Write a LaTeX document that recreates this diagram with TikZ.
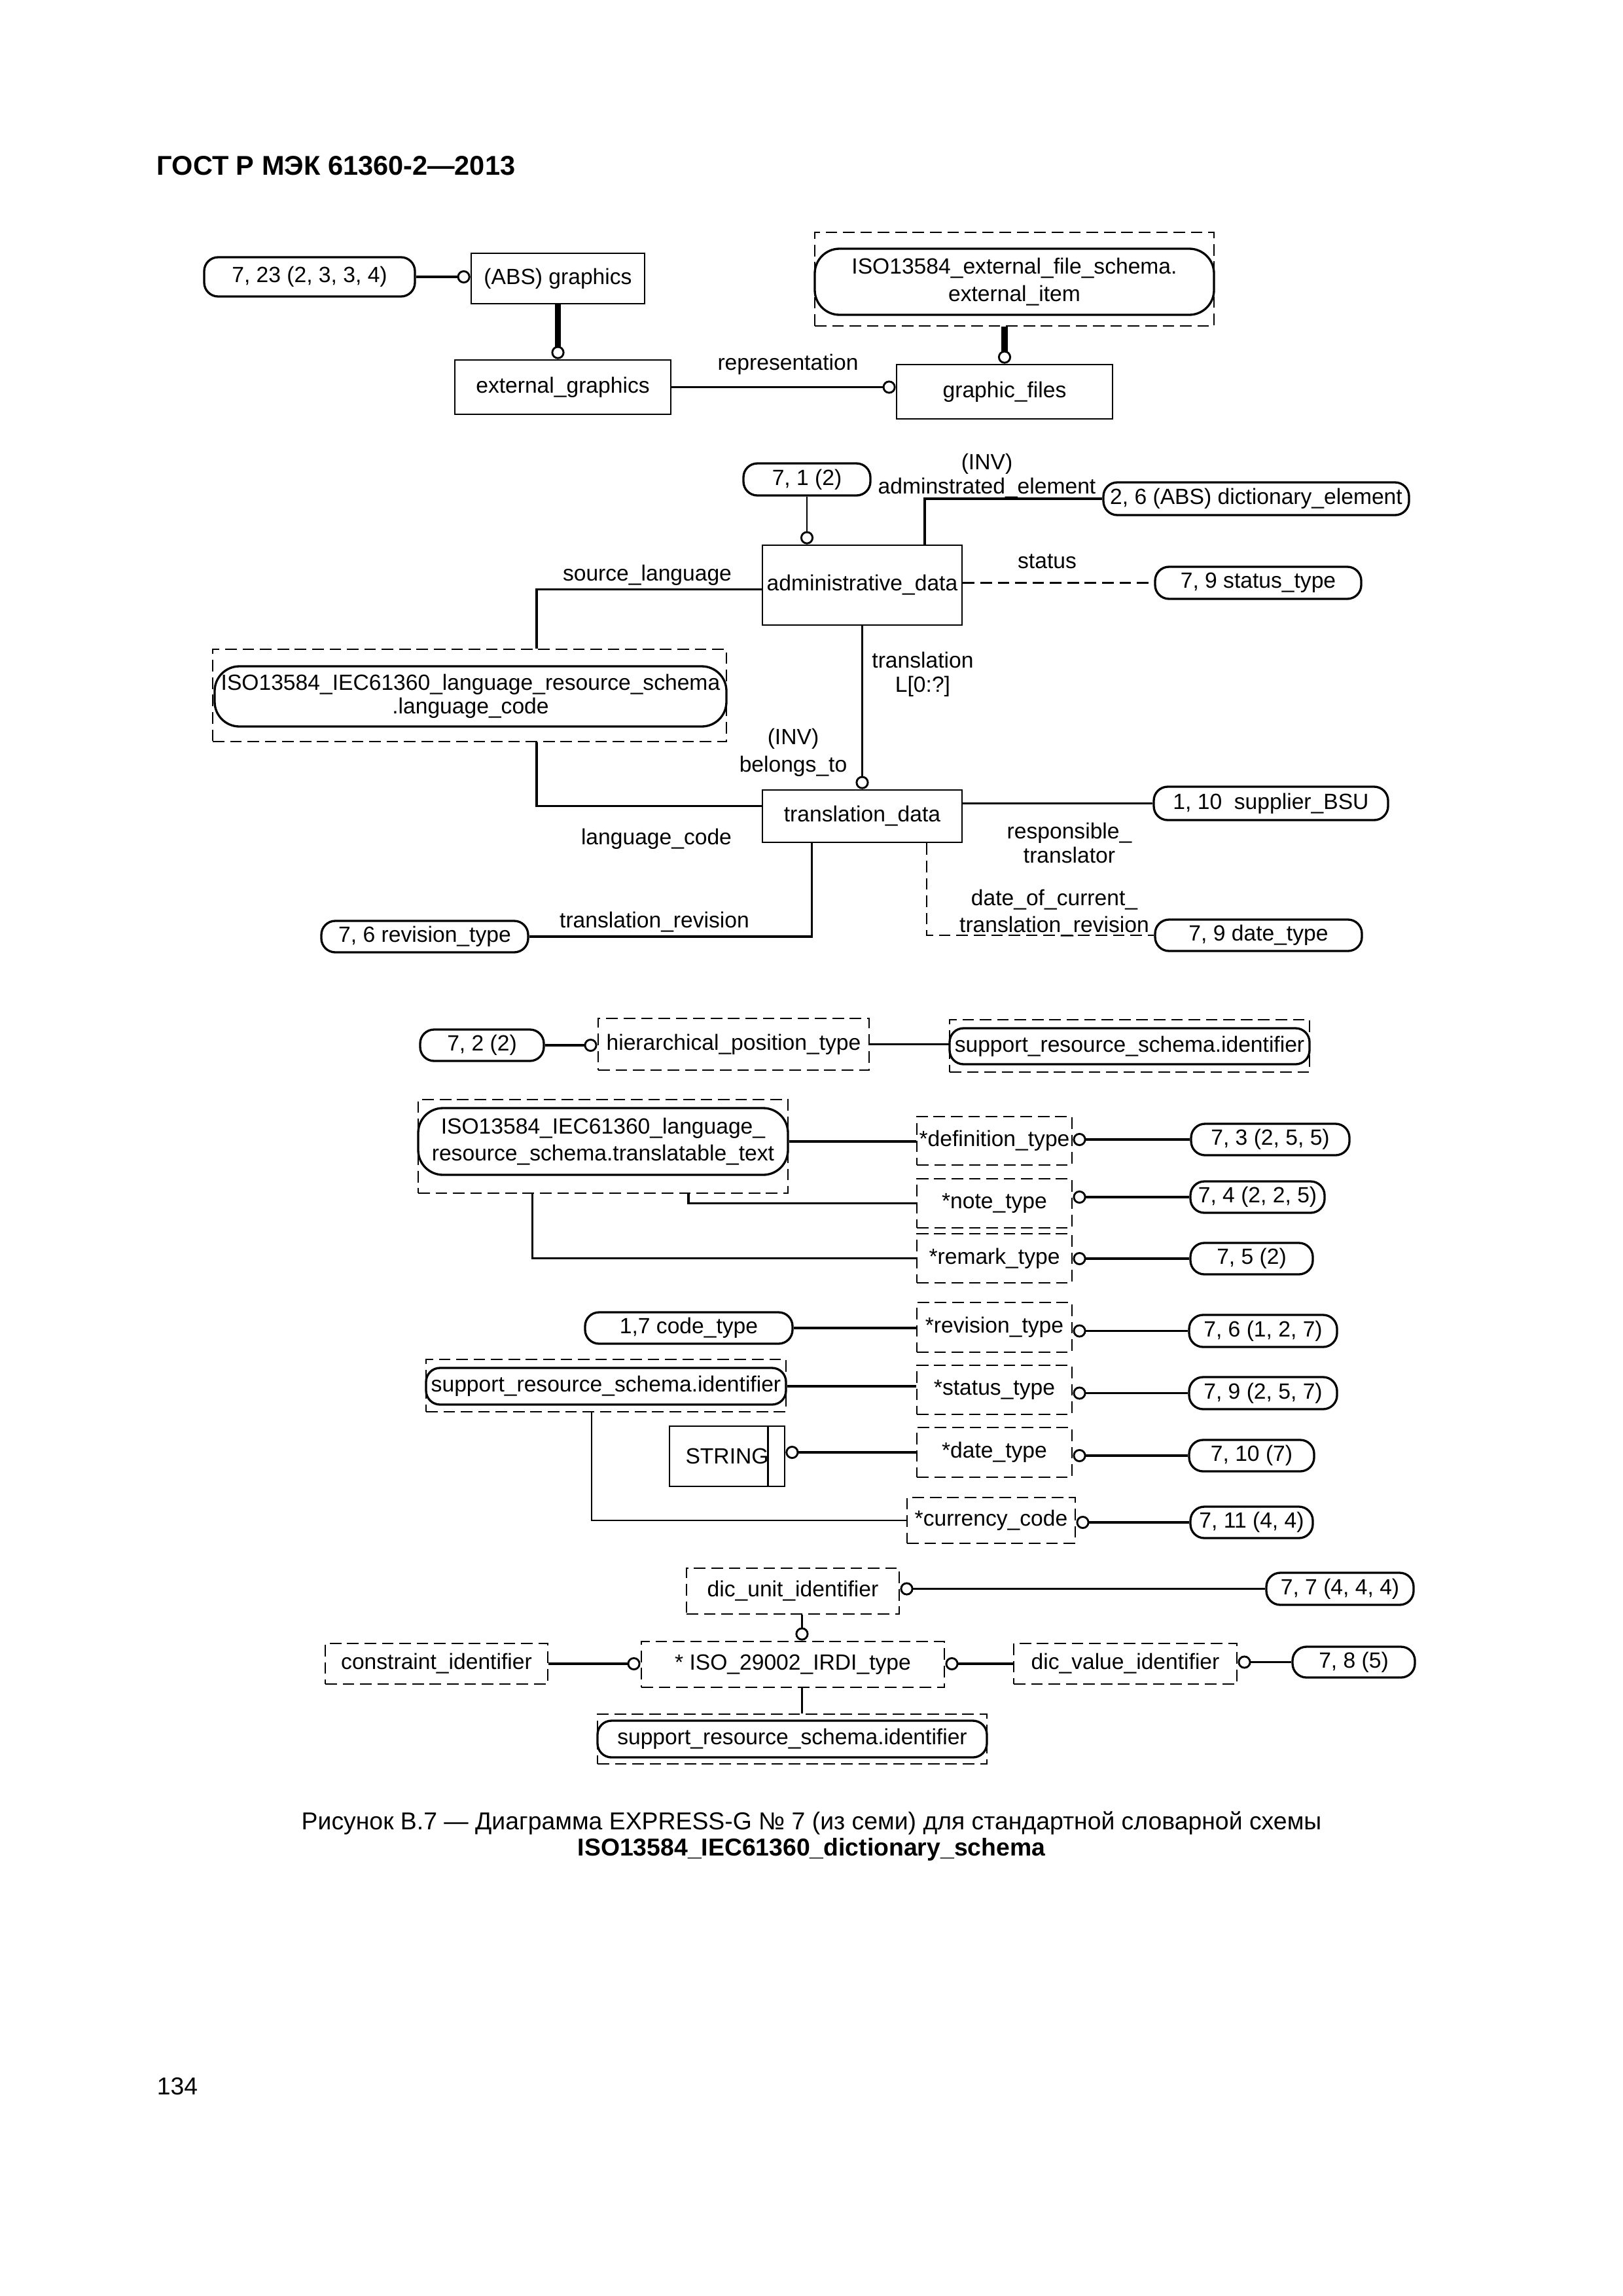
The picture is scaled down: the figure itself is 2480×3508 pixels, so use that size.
\documentclass[tikz,border=0pt]{standalone}
\usepackage{fontspec}
\setmainfont{Liberation Sans}
\usetikzlibrary{calc,arrows.meta}
\newlength{\px}
\setlength{\px}{0.084667mm}
\newcommand{\dfont}{\fontsize{8.1}{10}\selectfont}
\tikzset{
  span/.style n args={4}{at={({(#1+#3)/2},{(#2+#4)/2})}, minimum width={(#3-#1)*\px}, minimum height={(#4-#2)*\px}},
  entity/.style={draw, line width=0.65pt, inner sep=0pt},
  deftype/.style={draw, line width=0.7pt, dash pattern=on 1.5mm off 0.75mm, inner sep=0pt},
  refpill/.style={draw, line width=0.8pt, rounded corners=1.8mm, inner sep=0pt},
  schemapill/.style={draw, line width=0.8pt, rounded corners=3.2mm, inner sep=0pt, align=center},
  rel/.style={line width=0.8pt},
  thinrel/.style={line width=0.5pt},
  thickrel/.style={line width=2.2pt},
  dashrel/.style={line width=0.7pt, dash pattern=on 1.5mm off 0.75mm},
  opt/.style={-{Circle[open,length=1.7mm,width=1.7mm,line width=0.7pt 0]}},
  lbl/.style={inner sep=0pt, align=center}
}
\begin{document}
\begin{tikzpicture}[x=0.084667mm, y=-0.084667mm, every node/.style={font=\dfont}]
\fill[white] (0,0) rectangle (2480,3508);
\useasboundingbox (0,0) rectangle (2480,3508);
\node[lbl, anchor=base west, font=\bfseries\fontsize{10}{12}\selectfont] (head) at (239,267) {ГОСТ Р МЭК 61360-2—2013};

\node[refpill, span={312}{393}{634}{453}] (p723) {7, 23 (2, 3, 3, 4)};
\node[entity, span={720}{387}{985}{464}] (graphics) {(ABS) graphics};
\node[entity, span={695}{550}{1025}{633}] (extg) {external\_graphics};
\node[entity, span={1370}{557}{1700}{640}] (gfiles) {graphic\_files};
\node[deftype, span={1245}{355}{1855}{498}] (extbox) {};
\node[schemapill, span={1245}{380}{1855}{481}] (extitem) {ISO13584\_external\_file\_schema.\\external\_item};
\draw[rel, opt] (p723.east) -- (p723.east -| graphics.west);
\draw[thickrel, opt] (graphics.south) -- (graphics.south |- extg.north);
\draw[rel, opt] (extg.east) -- (extg.east -| gfiles.west);
\draw[thickrel, opt] (gfiles.north |- extbox.south) -- (gfiles.north);
\node[lbl, anchor=base] (lrep) at (1204,565) {representation};

\node[refpill, span={1136}{708}{1330}{757}] (p71) {7, 1 (2)};
\node[entity, span={1165}{833}{1470}{955}] (admin) {administrative\_data};
\node[refpill, span={1686}{737}{2153}{787}] (pdict) {2, 6 (ABS) dictionary\_element};
\node[refpill, span={1765}{866}{2080}{915}] (pstatus) {7, 9 status\_type};
\node[deftype, span={325}{992}{1110}{1133}] (lcbox) {};
\node[schemapill, span={328}{1018}{1110}{1110}, font=\fontsize{8.1}{8.6}\selectfont] (lcode) {ISO13584\_IEC61360\_language\_resource\_schema\\.language\_code};
\node[entity, span={1165}{1207}{1470}{1287}] (tdata) {translation\_data};
\node[refpill, span={1763}{1202}{2121}{1253}] (psup) {1, 10\ \ supplier\_BSU};
\node[refpill, span={1765}{1405}{2081}{1453}] (pdate) {7, 9 date\_type};
\node[refpill, span={491}{1407}{807}{1455}] (prev) {7, 6 revision\_type};
\draw[thinrel, opt] (p71.south) -- (p71.south |- admin.north);
\draw[rel] (pdict.west) -| ($(admin.north west)!0.81!(admin.north east)$);
\draw[dashrel] (pstatus.west -| admin.east) -- (pstatus.west);
\draw[rel] ($(admin.north west)!0.55!(admin.south west)$) -| ($(lcbox.north west)!0.63!(lcbox.north east)$);
\draw[rel, opt] (admin.south) -- (admin.south |- tdata.north);
\draw[rel] ($(lcbox.south west)!0.63!(lcbox.south east)$) |- ($(tdata.north west)!0.31!(tdata.south west)$);
\draw[rel] (psup.west -| tdata.east) -- (psup.west);
\draw[dashrel] ($(tdata.south west)!0.82!(tdata.south east)$) |- (pdate.west);
\draw[rel] ($(tdata.south west)!0.25!(tdata.south east)$) |- (prev.east);
\node[lbl, font=\fontsize{8.1}{9}\selectfont] (linv1) at (1508,727) {(INV)\\adminstrated\_element};
\node[lbl, anchor=base] (lstatus) at (1600,868) {status};
\node[lbl, anchor=base] (lsrc) at (989,887) {source\_language};
\node[lbl, font=\fontsize{8.1}{9}\selectfont] (ltrans) at (1410,1030) {translation\\L[0:?]};
\node[lbl] (linv2) at (1212,1150) {(INV)\\belongs\_to};
\node[lbl, anchor=base] (llang) at (1003,1290) {language\_code};
\node[lbl, font=\fontsize{8.1}{9}\selectfont] (lresp) at (1634,1288) {responsible\_\\translator};
\node[lbl] (ldate) at (1611,1395) {date\_of\_current\_\\translation\_revision};
\node[lbl, anchor=base] (ltrev) at (1000,1417) {translation\_revision};

\node[refpill, span={642}{1573}{831}{1621}] (p72) {7, 2 (2)};
\node[deftype, span={914}{1556}{1328}{1635}] (hier) {hierarchical\_position\_type};
\node[deftype, span={1451}{1558}{2001}{1638}] (srs1box) {};
\node[refpill, span={1451}{1571}{2001}{1626}] (srs1) {support\_resource\_schema.identifier};
\node[deftype, span={639}{1680}{1204}{1823}] (ttbox) {};
\node[schemapill, span={639}{1693}{1204}{1795}] (ttext) {ISO13584\_IEC61360\_language\_\\resource\_schema.translatable\_text};
\node[deftype, span={1401}{1706}{1638}{1780}] (defn) {*definition\_type};
\node[deftype, span={1401}{1801}{1638}{1876}] (note) {*note\_type};
\node[deftype, span={1401}{1885}{1638}{1960}] (remark) {*remark\_type};
\node[refpill, span={1820}{1717}{2062}{1765}] (p73) {7, 3 (2, 5, 5)};
\node[refpill, span={1819}{1805}{2024}{1853}] (p74) {7, 4 (2, 2, 5)};
\node[refpill, span={1819}{1899}{2006}{1947}] (p75) {7, 5 (2)};
\draw[rel, opt] (p72.east) -- (p72.east -| hier.west);
\draw[rel] (hier.east) -- (hier.east -| srs1box.west);
\draw[rel] (ttext.east) -- (ttext.east -| defn.west);
\draw[rel, opt] (p73.west) -- (p73.west -| defn.east);
\draw[rel] ($(ttbox.south west)!0.73!(ttbox.south east)$) |- (note.west);
\draw[rel, opt] (p74.west) -- (p74.west -| note.east);
\draw[rel] ($(ttbox.south west)!0.31!(ttbox.south east)$) |- (remark.west);
\draw[rel, opt] (p75.west) -- (p75.west -| remark.east);

\node[refpill, span={894}{2005}{1211}{2053}] (pcode) {1,7 code\_type};
\node[deftype, span={1401}{1990}{1638}{2066}] (rev) {*revision\_type};
\node[refpill, span={1817}{2009}{2043}{2058}] (p76) {7, 6 (1, 2, 7)};
\node[deftype, span={651}{2077}{1201}{2157}] (srs2box) {};
\node[refpill, span={651}{2090}{1201}{2146}] (srs2) {support\_resource\_schema.identifier};
\node[deftype, span={1401}{2086}{1638}{2161}] (stat) {*status\_type};
\node[refpill, span={1817}{2104}{2043}{2153}] (p79) {7, 9 (2, 5, 7)};
\node[entity, span={1023}{2179}{1199}{2271}] (strg) {STRING\hspace{27\px}};
\node[deftype, span={1401}{2181}{1638}{2257}] (date) {*date\_type};
\node[refpill, span={1817}{2200}{2008}{2248}] (p710) {7, 10 (7)};
\node[deftype, span={1386}{2288}{1643}{2358}] (curr) {*currency\_code};
\node[refpill, span={1819}{2302}{2006}{2350}] (p711) {7, 11 (4, 4)};
\draw[rel] (pcode.east) -- (pcode.east -| rev.west);
\draw[rel, opt] (p76.west) -- (p76.west -| rev.east);
\draw[rel] (srs2.east) -- (srs2.east -| stat.west);
\draw[rel, opt] (p79.west) -- (p79.west -| stat.east);
\draw[entity] ($(strg.north east)+(-27,0)$) -- ($(strg.south east)+(-27,0)$);
\draw[rel, opt] (date.west) -- (date.west -| strg.east);
\draw[rel, opt] (p710.west) -- (p710.west -| date.east);
\draw[thinrel] ($(srs2box.south west)!0.46!(srs2box.south east)$) |- (curr.west);
\draw[rel, opt] (p711.west) -- (p711.west -| curr.east);

\node[deftype, span={1049}{2396}{1374}{2466}] (unit) {dic\_unit\_identifier};
\node[refpill, span={1935}{2403}{2160}{2452}] (p77) {7, 7 (4, 4, 4)};
\node[deftype, span={980}{2508}{1443}{2578}] (irdi) {* ISO\_29002\_IRDI\_type};
\node[deftype, span={497}{2511}{837}{2573}] (constr) {constraint\_identifier};
\node[deftype, span={1549}{2511}{1890}{2573}] (dval) {dic\_value\_identifier};
\node[refpill, span={1975}{2516}{2162}{2563}] (p78) {7, 8 (5)};
\node[deftype, span={913}{2619}{1508}{2695}] (srs3box) {};
\node[refpill, span={913}{2629}{1508}{2685}] (srs3) {support\_resource\_schema.identifier};
\coordinate (irdin) at ($(irdi.north west)!0.53!(irdi.north east)$);
\draw[rel, opt] (p77.west) -- (p77.west -| unit.east);
\draw[thinrel, opt] (irdin |- unit.south) -- (irdin);
\draw[rel, opt] (constr.east) -- (constr.east -| irdi.west);
\draw[rel, opt] (dval.west) -- (dval.west -| irdi.east);
\draw[rel, opt] (p78.west) -- (p78.west -| dval.east);
\draw[thinrel] (irdin |- irdi.south) -- (irdin |- srs3box.north);

\node[lbl, anchor=base, font=\fontsize{9}{11}\selectfont] (cap1) at (1240,2795) {Рисунок В.7 — Диаграмма EXPRESS-G № 7 (из семи) для стандартной словарной схемы};
\node[lbl, anchor=base, font=\bfseries\fontsize{9}{11}\selectfont] (cap2) at (1240,2835) {ISO13584\_IEC61360\_dictionary\_schema};
\node[lbl, anchor=base west, font=\fontsize{9}{11}\selectfont] (pnum) at (239,3200) {134};
\end{tikzpicture}
\end{document}
